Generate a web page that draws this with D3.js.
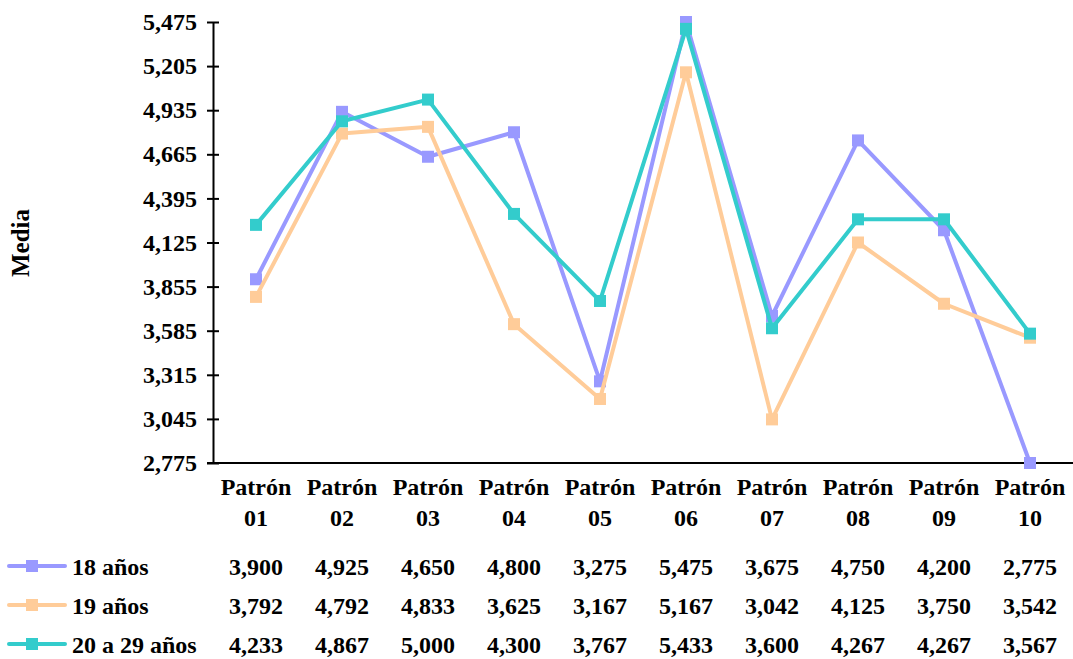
<!DOCTYPE html>
<html>
<head>
<meta charset="utf-8">
<script src="https://cdn.jsdelivr.net/npm/d3@7"></script>
<style>
  body { margin: 0; background: #fff; }
</style>
</head>
<body>
<svg id="chart"></svg>
<script>
// chart size
const width = 1073, height = 659;
const FONT = "Liberation Serif";

// data
const categories = ["01", "02", "03", "04", "05", "06", "07", "08", "09", "10"];
const seriesNames = ["18 años", "19 años", "20 a 29 años"];
const seriesColors = ["#9999FF", "#FFCC99", "#33CCCC"];
const values18 = [3900, 4925, 4650, 4800, 3275, 5475, 3675, 4750, 4200, 2775];
const values19 = [3792, 4792, 4833, 3625, 3167, 5167, 3042, 4125, 3750, 3542];
const values2029 = [4233, 4867, 5000, 4300, 3767, 5433, 3600, 4267, 4267, 3567];
const yTicks = [2775, 3045, 3315, 3585, 3855, 4125, 4395, 4665, 4935, 5205, 5475];

const allSeries = [values18, values19, values2029];

const svg = d3.select("#chart")
    .attr("width", width)
    .attr("height", height);

// plot area
const plotLeft = 213, plotRight = 1073, plotTop = 22, plotBottom = 463;

const x = d3.scaleBand()
    .domain(categories)
    .range([plotLeft, plotRight]);

const y = d3.scaleLinear()
    .domain([2775, 5475])
    .range([plotBottom, plotTop]);

const fmt = d3.format(",");

// helper for the bold serif labels
function label(sel) {
    return sel.style("font-family", FONT)
        .style("font-weight", "bold")
        .style("font-size", "24px")
        .attr("fill", "#000");
}

// y axis
const yAxis = svg.append("g")
    .attr("transform", "translate(" + plotLeft + ",0)")
    .call(d3.axisLeft(y).tickValues(yTicks).tickFormat(fmt).tickSizeInner(6).tickSizeOuter(0).tickPadding(10));
yAxis.select(".domain").attr("stroke", "#000").attr("stroke-width", 2);
yAxis.selectAll(".tick line").attr("x2", 6).attr("x1", -6).attr("stroke", "#000").attr("stroke-width", 2);
yAxis.selectAll(".tick text")
    .call(label)
    .attr("x", -16);

// x axis line
svg.append("line")
    .attr("x1", plotLeft - 6).attr("x2", plotRight)
    .attr("y1", plotBottom).attr("y2", plotBottom)
    .attr("stroke", "#000")
    .attr("stroke-width", 2);

// y label
svg.append("text")
    .attr("transform", "translate(29,243) rotate(-90)")
    .attr("text-anchor", "middle")
    .call(label)
    .style("font-size", "25px")
    .text("Media");

// lines + markers
const line = d3.line()
    .x((d, i) => x(categories[i]) + x.bandwidth() / 2)
    .y(d => y(d));

allSeries.forEach(function(vals, s) {
    const g = svg.append("g");
    g.append("path")
        .datum(vals)
        .attr("d", line)
        .attr("fill", "none")
        .attr("stroke", seriesColors[s])
        .attr("stroke-width", 4)
        .attr("stroke-linejoin", "round");
    g.selectAll("rect")
        .data(vals)
        .enter().append("rect")
        .attr("x", (d, i) => x(categories[i]) + x.bandwidth() / 2 - 6)
        .attr("y", d => y(d) - 6)
        .attr("width", 12)
        .attr("height", 12)
        .attr("fill", seriesColors[s]);
});

// category labels
const catG = svg.selectAll(".cat")
    .data(categories)
    .enter().append("g")
    .attr("class", "cat")
    .attr("transform", d => "translate(" + (x(d) + x.bandwidth() / 2) + ",0)");
catG.append("text")
    .attr("y", 495)
    .attr("text-anchor", "middle")
    .call(label)
    .text("Patrón");
catG.append("text")
    .attr("y", 526)
    .attr("text-anchor", "middle")
    .call(label)
    .text(d => d);

// data table with legend keys
const rowBase = [575, 614, 653];
allSeries.forEach(function(vals, s) {
    const cy = rowBase[s] - 9;
    svg.append("line")
        .attr("x1", 9).attr("x2", 65)
        .attr("y1", cy).attr("y2", cy)
        .attr("stroke", seriesColors[s])
        .attr("stroke-width", 4)
        .attr("stroke-linecap", "round");
    svg.append("rect")
        .attr("x", 26).attr("y", cy - 6)
        .attr("width", 12).attr("height", 12)
        .attr("fill", seriesColors[s]);
    svg.append("text")
        .attr("x", 72).attr("y", rowBase[s])
        .call(label)
        .text(seriesNames[s]);
    svg.selectAll(".val" + s)
        .data(vals)
        .enter().append("text")
        .attr("class", "val" + s)
        .attr("x", (d, i) => x(categories[i]) + x.bandwidth() / 2)
        .attr("y", rowBase[s])
        .attr("text-anchor", "middle")
        .call(label)
        .text(d => fmt(d));
});
</script>
</body>
</html>
